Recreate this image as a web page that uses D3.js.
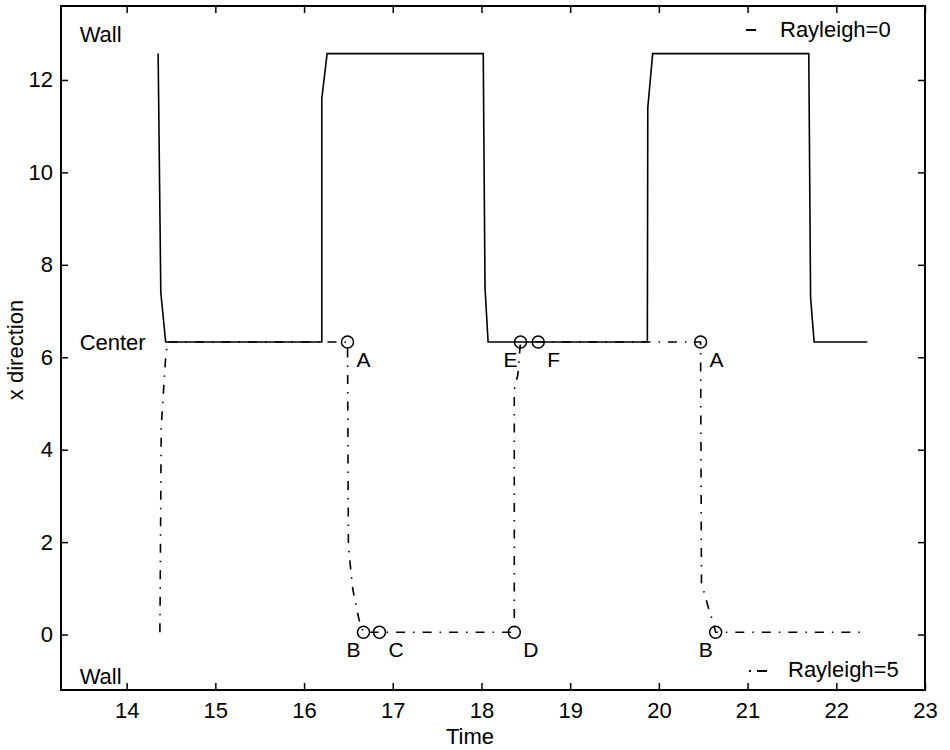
<!DOCTYPE html>
<html>
<head>
<meta charset="utf-8">
<script src="https://cdn.jsdelivr.net/npm/d3@7"></script>
<style>
  body { margin: 0; background: #fff; }
  svg text { font-family: "Liberation Sans", Arial, Helvetica, sans-serif; fill: #000; }
</style>
</head>
<body>
<svg id="chart" width="950" height="750"></svg>
<script>
// ---------------- data ----------------
const xTicks = [14, 15, 16, 17, 18, 19, 20, 21, 22, 23];
const yTicks = [0, 2, 4, 6, 8, 10, 12];

// Rayleigh = 0 (solid)
const rayleigh0Time = [14.355, 14.385, 14.44, 16.20, 16.20, 16.26, 18.02, 18.04, 18.075, 19.87, 19.875, 19.93, 21.69, 21.71, 21.75, 22.35];
const rayleigh0X    = [12.57,  7.4,    6.33,  6.33,  11.6,  12.57, 12.57, 7.5,   6.33,   6.33,  11.4,   12.57, 12.57, 7.3,   6.33,  6.33];

// Rayleigh = 5 (dash-dot)
const rayleigh5Time = [14.375, 14.39, 14.44, 14.46, 16.49, 16.50, 16.55, 16.62, 16.67, 16.85, 18.37, 18.37, 18.41, 18.44, 18.64, 20.47, 20.48, 20.57, 20.61, 20.64, 22.28];
const rayleigh5X    = [0.05,   4.5,   6.0,   6.33,  6.33,  1.9,   0.97,  0.32,  0.05,  0.05,  0.05,  5.3,   5.62,  6.33,  6.33,  6.33,  1.12,  0.5,   0.28,  0.05,  0.05];

// marked states
const markerTime   = [16.49, 16.67, 16.85, 18.37, 18.44, 18.64, 20.47, 20.64];
const markerX      = [6.33,  0.05,  0.05,  0.05,  6.33,  6.33,  6.33,  0.05];
const markerLabels = ["A",   "B",   "C",   "D",   "E",   "F",   "A",   "B"];
const labelSide    = ["right","left","right","right","left","right","right","left"];

// annotations
const annotTime  = [13.47, 13.47, 13.47];
const annotX     = [13.0, 6.33, -0.9];
const annotText  = ["Wall", "Center", "Wall"];
const legendText = ["Rayleigh=0", "Rayleigh=5"];

// ---------------- layout ----------------
const svg = d3.select("#chart");
const L = 61, R = 925, T = 6, B = 690;
const x = d3.scaleLinear().domain([13.26, 23]).range([L, R]);
const y = d3.scaleLinear().domain([-1.2, 13.6]).range([B, T]);
const FS = 22;
const dashDot = "9,8,1.5,8";

// axes (ticks inward on all four sides)
const gB = svg.append("g").attr("transform", `translate(0,${B})`)
  .call(d3.axisBottom(x).tickValues(xTicks).tickSize(-7).tickPadding(12).tickFormat(d3.format("d")));
const gL = svg.append("g").attr("transform", `translate(${L},0)`)
  .call(d3.axisLeft(y).tickValues(yTicks).tickSize(-7).tickPadding(8).tickFormat(d3.format("d")));
const gT = svg.append("g").attr("transform", `translate(0,${T})`)
  .call(d3.axisTop(x).tickValues(xTicks).tickSize(-7).tickFormat(""));
const gR = svg.append("g").attr("transform", `translate(${R},0)`)
  .call(d3.axisRight(y).tickValues(yTicks).tickSize(-7).tickFormat(""));
[gB, gL, gT, gR].forEach(g => {
  g.select(".domain").remove();
  g.selectAll(".tick line").attr("stroke", "#000").attr("stroke-width", 1.5);
  g.selectAll(".tick text").attr("font-size", FS).attr("font-family", "Liberation Sans, Arial, sans-serif").attr("fill", "#000");
});

// frame
svg.append("rect").attr("x", L).attr("y", T).attr("width", R - L).attr("height", B - T)
  .attr("fill", "none").attr("stroke", "#000").attr("stroke-width", 2);

// axis titles
svg.append("text").attr("x", 470).attr("y", 744).attr("text-anchor", "middle")
  .attr("font-size", FS).text("Time");
svg.append("text").attr("transform", "translate(23,350) rotate(-90)").attr("text-anchor", "middle")
  .attr("font-size", FS).text("x direction");

// lines
const line = d3.line().x(d => x(d[0])).y(d => y(d[1]));
svg.append("path")
  .datum(rayleigh0Time.map((t, i) => [t, rayleigh0X[i]]))
  .attr("d", line).attr("fill", "none").attr("stroke", "#000").attr("stroke-width", 1.6);
svg.append("path")
  .datum(rayleigh5Time.map((t, i) => [t, rayleigh5X[i]]))
  .attr("d", line).attr("fill", "none").attr("stroke", "#000").attr("stroke-width", 1.6)
  .attr("stroke-dasharray", dashDot);

// markers
svg.append("g").selectAll("circle").data(markerTime).join("circle")
  .attr("cx", d => x(d)).attr("cy", (d, i) => y(markerX[i])).attr("r", 6)
  .attr("fill", "none").attr("stroke", "#000").attr("stroke-width", 1.5);
svg.append("g").selectAll("text").data(markerLabels).join("text")
  .attr("x", (d, i) => x(markerTime[i]) + (labelSide[i] === "right" ? 9 : -3))
  .attr("y", (d, i) => y(markerX[i]) + 25)
  .attr("text-anchor", (d, i) => labelSide[i] === "right" ? "start" : "end")
  .attr("font-size", 21).text(d => d);

// annotations
svg.append("g").selectAll("text").data(annotText).join("text")
  .attr("x", (d, i) => x(annotTime[i]))
  .attr("y", (d, i) => y(annotX[i]) + 8)
  .attr("font-size", FS).text(d => d);

// legends
svg.append("line").attr("x1", 746).attr("x2", 756).attr("y1", 30).attr("y2", 30)
  .attr("stroke", "#000").attr("stroke-width", 2);
svg.append("text").attr("x", 780).attr("y", 37).attr("font-size", FS).text(legendText[0]);
svg.append("line").attr("x1", 749).attr("x2", 767).attr("y1", 671).attr("y2", 671)
  .attr("stroke", "#000").attr("stroke-width", 2).attr("stroke-dasharray", "2,6,10");
svg.append("text").attr("x", 788).attr("y", 677).attr("font-size", FS).text(legendText[1]);
</script>
</body>
</html>
